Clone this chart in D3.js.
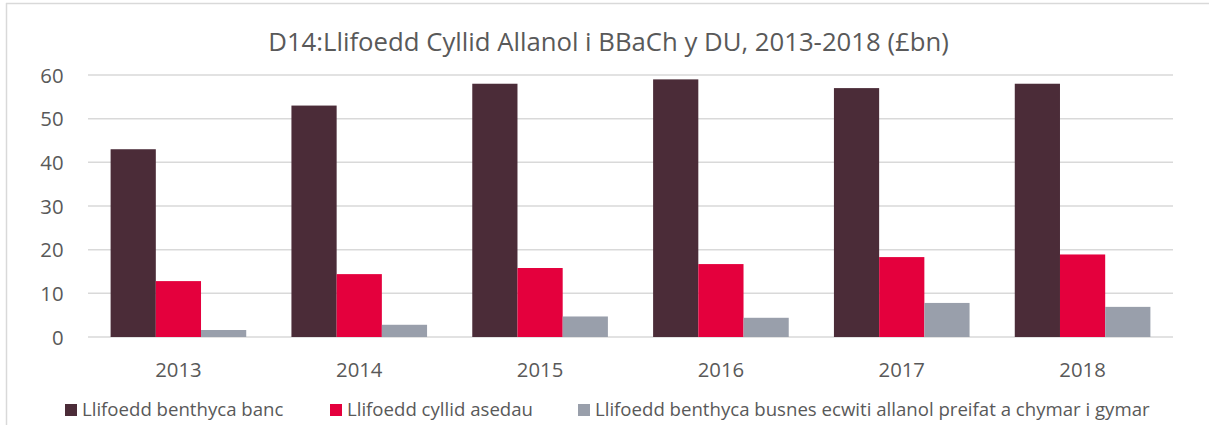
<!DOCTYPE html>
<html><head><meta charset="utf-8">
<script src="https://cdn.jsdelivr.net/npm/d3@7"></script>
<style>
html,body{margin:0;padding:0;background:#fff;}
svg{display:block;font-family:"Open Sans",sans-serif;}
</style></head>
<body><svg id="c" width="1209" height="425"></svg>
<script>
const years = ["2013","2014","2015","2016","2017","2018"];
const seriesNames = ["Llifoedd benthyca banc","Llifoedd cyllid asedau","Llifoedd benthyca busnes ecwiti allanol preifat a chymar i gymar"];
const bankLending = [43, 53, 58, 59, 57, 58];
const assetFinance = [12.8, 14.4, 15.8, 16.7, 18.3, 18.9];
const equityP2P = [1.6, 2.8, 4.7, 4.4, 7.8, 6.9];
const yTicks = [0, 10, 20, 30, 40, 50, 60];
const colors = ["#4B2C38", "#E4003D", "#999FAB"];
const title = "D14:Llifoedd Cyllid Allanol i BBaCh y DU, 2013-2018 (£bn)";

const svg = d3.select("#c");
const textCol = "#595959", gridCol = "#D9D9D9";
const L = 88, R = 1173, T = 75, B = 337;

// size text so its width matches a target width
function fitSize(str, target, base) {
  const t = svg.append("text").attr("font-size", base).text(str);
  const w = t.node().getComputedTextLength();
  t.remove();
  return base * target / w;
}
const titleSize = fitSize(title, 681, 20);
const tickSize = fitSize("2013", 46.5, 20);
const legSize = fitSize(seriesNames[2], 555, 16);

// frame
svg.append("line").attr("x1",6.5).attr("x2",6.5).attr("y1",3).attr("y2",425).attr("stroke",gridCol).attr("stroke-width",1.5);
svg.append("line").attr("x1",6).attr("x2",1209).attr("y1",3.5).attr("y2",3.5).attr("stroke",gridCol).attr("stroke-width",1.5);

const x0 = d3.scaleBand().domain(years).range([L, R]).padding(0);
const x1 = d3.scaleBand().domain(d3.range(3)).range([x0.bandwidth()*0.125, x0.bandwidth()*0.875]).padding(0);
const y = d3.scaleLinear().domain([0, 60]).range([B, T]);

// gridlines
svg.append("g").selectAll("line").data(yTicks).join("line")
  .attr("x1", L).attr("x2", R).attr("y1", d=>y(d)).attr("y2", d=>y(d))
  .attr("stroke", gridCol).attr("stroke-width", 1.5);

// y axis labels
const yAxis = d3.axisLeft(y).tickValues(yTicks).tickSize(0).tickPadding(0).tickFormat(d3.format("d"));
const yg = svg.append("g").attr("transform", `translate(63.5,0)`).call(yAxis);
yg.select(".domain").remove();
yg.selectAll("text").attr("fill", textCol).attr("font-size", tickSize).attr("font-family","Open Sans").attr("dy","0.36em");

// bars
const data = [bankLending, assetFinance, equityP2P];
const groups = svg.append("g").selectAll("g").data(years).join("g")
  .attr("transform", d => `translate(${x0(d)},0)`);
groups.selectAll("rect").data((d,i) => data.map((s,k)=>({k, v:s[i]}))).join("rect")
  .attr("x", d => x1(d.k)).attr("width", x1.bandwidth())
  .attr("y", d => y(d.v)).attr("height", d => y(0)-y(d.v))
  .attr("fill", d => colors[d.k]);

// x axis labels
const xAxis = d3.axisBottom(x0).tickSize(0).tickPadding(0);
const xg = svg.append("g").attr("transform", `translate(0,${B})`).call(xAxis);
xg.select(".domain").remove();
xg.selectAll("text").attr("fill", textCol).attr("font-size", tickSize).attr("font-family","Open Sans")
  .attr("dy", null).attr("y", 39.5);

// title
svg.append("text").attr("x", 608.5).attr("y", 51).attr("text-anchor","middle")
  .attr("fill", textCol).attr("font-size", titleSize).text(title);

// legend
const legX = [65, 330, 578];
const leg = svg.append("g").selectAll("g").data(seriesNames).join("g")
  .attr("transform", (d,i)=>`translate(${legX[i]},404)`);
leg.append("rect").attr("width",12).attr("height",12).attr("fill",(d,i)=>colors[i]);
leg.append("text").attr("x",17).attr("y",12).attr("fill",textCol).attr("font-size",legSize).text(d=>d);
</script></body></html>
